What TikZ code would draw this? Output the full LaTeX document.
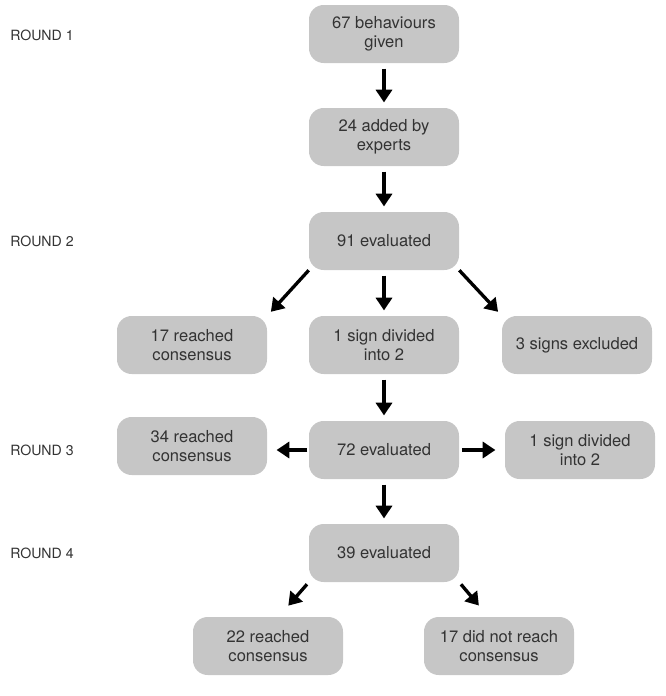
\documentclass[tikz,border=0pt]{standalone}
\usepackage{fontspec}
\setmainfont{TeX Gyre Heros}
\usetikzlibrary{arrows.meta}
\definecolor{boxgray}{HTML}{C6C6C6}
\definecolor{textgray}{HTML}{333333}

\begin{document}
\begin{tikzpicture}[
x=0.75pt,y=-0.75pt,
box/.style={rectangle,rounded corners=11pt,fill=boxgray,text=textgray,minimum width=112.5pt,minimum height=43.5pt,align=center,font=\fontsize{12.4}{14.2}\selectfont},
roundlabel/.style={anchor=west,inner sep=0pt,text=textgray,font=\fontsize{10.6}{12}\selectfont},
arr/.style={-{Triangle[width=12pt,length=9.5pt]},line width=2.5pt,shorten <=4pt,shorten >=4pt}
]
\useasboundingbox (0,0) rectangle (666,696);

% round labels
\node[roundlabel] (r1) at (10,35) {ROUND 1};
\node[roundlabel] (r2) at (10,241) {ROUND 2};
\node[roundlabel] (r3) at (10,450) {ROUND 3};
\node[roundlabel] (r4) at (10,553) {ROUND 4};

% boxes
\node[box] (given) at (384,34) {67 behaviours\\given};
\node[box] (added) at (384,137) {24 added by\\experts};
\node[box] (evalA) at (384,241) {91 evaluated};
\node[box] (consA) at (192,345) {17 reached\\consensus};
\node[box] (divA) at (384,345) {1 sign divided\\into 2};
\node[box] (excl) at (577,345) {3 signs excluded};
\node[box] (consB) at (192,446) {34 reached\\consensus};
\node[box] (evalB) at (384,450) {72 evaluated};
\node[box] (divB) at (580,450) {1 sign divided\\into 2};
\node[box] (evalC) at (384,553) {39 evaluated};
\node[box] (consC) at (268,646) {22 reached\\consensus};
\node[box] (nocons) at (499,646) {17 did not reach\\consensus};

% arrows
\draw[arr] (given) -- (added);
\draw[arr] (added) -- (evalA);
\draw[arr] (evalA) -- (divA);
\draw[arr,shorten <=0pt] (evalA.south west) -- (consA.north east);
\draw[arr,shorten <=0pt] (evalA.south east) -- (excl.north west);
\draw[arr] (divA) -- (evalB);
\draw[arr,shorten <=1pt,shorten >=7pt] (evalB.west) -- (consB.east |- evalB.west);
\draw[arr,shorten <=2pt,shorten >=7pt] (evalB.east) -- (divB.west |- evalB.east);
\draw[arr] (evalB) -- (evalC);
\draw[arr,shorten <=2pt,shorten >=11pt] (evalC.south west) -- (consC.70);
\draw[arr,shorten <=2pt,shorten >=11pt] (evalC.south east) -- (nocons.110);

\end{tikzpicture}
\end{document}
